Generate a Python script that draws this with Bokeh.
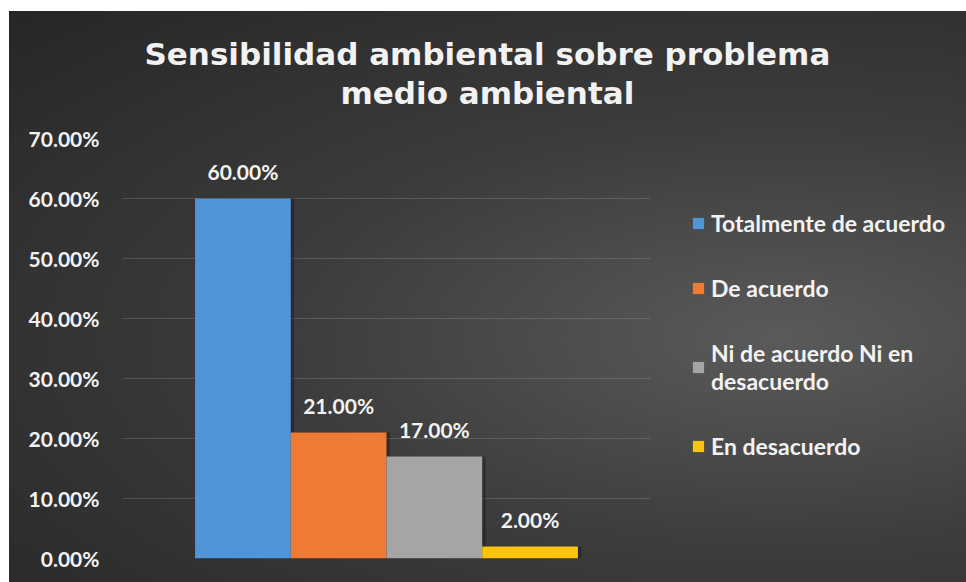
from bokeh.plotting import figure
from bokeh.models import (ColumnDataSource, FactorRange, Range1d, FixedTicker,
                          NumeralTickFormatter, LabelSet, Legend, LegendItem)
from bokeh.core.properties import value
from bokeh.transform import dodge
from bokeh.embed import file_html
from bokeh.resources import INLINE

# ---- data ----
categories = ["Totalmente de acuerdo", "De acuerdo",
              "Ni de acuerdo Ni en desacuerdo", "En desacuerdo"]
values = [0.60, 0.21, 0.17, 0.02]
value_labels = ["60.00%", "21.00%", "17.00%", "2.00%"]
legend_labels = ["Totalmente de acuerdo", "De acuerdo",
                 "Ni de acuerdo Ni en\ndesacuerdo", "En desacuerdo"]
bar_colors = ["#4f95d8", "#ef7a34", "#a5a5a5", "#fbc40c"]
y_ticks = [0.0, 0.1, 0.2, 0.3, 0.4, 0.5, 0.6, 0.7]
title_text = "Sensibilidad ambiental sobre problema\nmedio ambiental"

TEXT = "#f2f2f2"

src = ColumnDataSource(dict(cat=categories, val=values, lab=value_labels,
                            color=bar_colors))

bg = ("linear-gradient(#ffffff,#ffffff) top left / 100% 11px no-repeat, "
      "linear-gradient(#ffffff,#ffffff) top left / 9px 100% no-repeat, "
      "radial-gradient(ellipse farthest-corner at 56% 58%, #5a5a5a 0%, #3c3c3c 45%, #252525 100%)")

p = figure(frame_width=528, frame_height=420,
           x_range=FactorRange(factors=categories, range_padding=0.379),
           y_range=Range1d(0, 0.7),
           x_axis_location=None,
           output_backend="svg", toolbar_location=None,
           min_border_left=122, min_border_right=316,
           min_border_top=138, min_border_bottom=24,
           background_fill_color=None, border_fill_color=None,
           outline_line_color=None,
           styles={"background": bg})

# title
p.title.text = title_text
p.title.align = "left"
p.title.text_align = "center"
p.title.offset = 22
p.title.standoff = 54
p.title.text_font = "DejaVu Sans"
p.title.text_font_style = "bold"
p.title.text_font_size = "31px"
p.title.text_line_height = 1.1
p.title.text_color = TEXT

# y axis
p.yaxis.ticker = FixedTicker(ticks=y_ticks)
p.yaxis.formatter = NumeralTickFormatter(format="0.00%")
p.yaxis.major_label_text_font = "Lato"
p.yaxis.major_label_text_font_style = "bold"
p.yaxis.major_label_text_font_size = "21px"
p.yaxis.major_label_text_color = TEXT
p.yaxis.axis_line_color = None
p.yaxis.major_tick_line_color = None
p.yaxis.minor_tick_line_color = None
p.yaxis.major_tick_out = 0
p.yaxis.major_tick_in = 0
p.yaxis.major_label_standoff = 23

p.xgrid.grid_line_color = None
p.ygrid.ticker = FixedTicker(ticks=y_ticks)
p.ygrid.grid_line_color = "#ffffff"
p.ygrid.grid_line_alpha = 0.14

# soft shadow behind the bars
p.vbar(x=dodge("cat", 0.035, range=p.x_range), top="val", bottom=-0.006,
       width=1.0, source=src, fill_color="#000000", fill_alpha=0.28,
       line_color=None)

r = p.vbar(x="cat", top="val", width=1.0, source=src,
           fill_color="color", line_color=None)

labels = LabelSet(x="cat", y="val", text="lab", source=src,
                  y_offset=27, text_align="center", text_baseline="middle",
                  text_font=value("Lato"), text_font_style="bold",
                  text_font_size="21px", text_color=TEXT)
p.add_layout(labels)

items = [LegendItem(label=legend_labels[i], renderers=[r], index=i)
         for i in range(len(categories))]
legend = Legend(items=items, location=(41, 98),
                label_text_font="Lato", label_text_font_style="bold",
                label_text_font_size="23px", label_text_color=TEXT,
                glyph_width=14, glyph_height=14, label_standoff=6,
                spacing=37, padding=0, margin=0,
                background_fill_alpha=0, border_line_color=None)
p.add_layout(legend, "right")

open("out.html", "w").write(file_html(p, INLINE))
